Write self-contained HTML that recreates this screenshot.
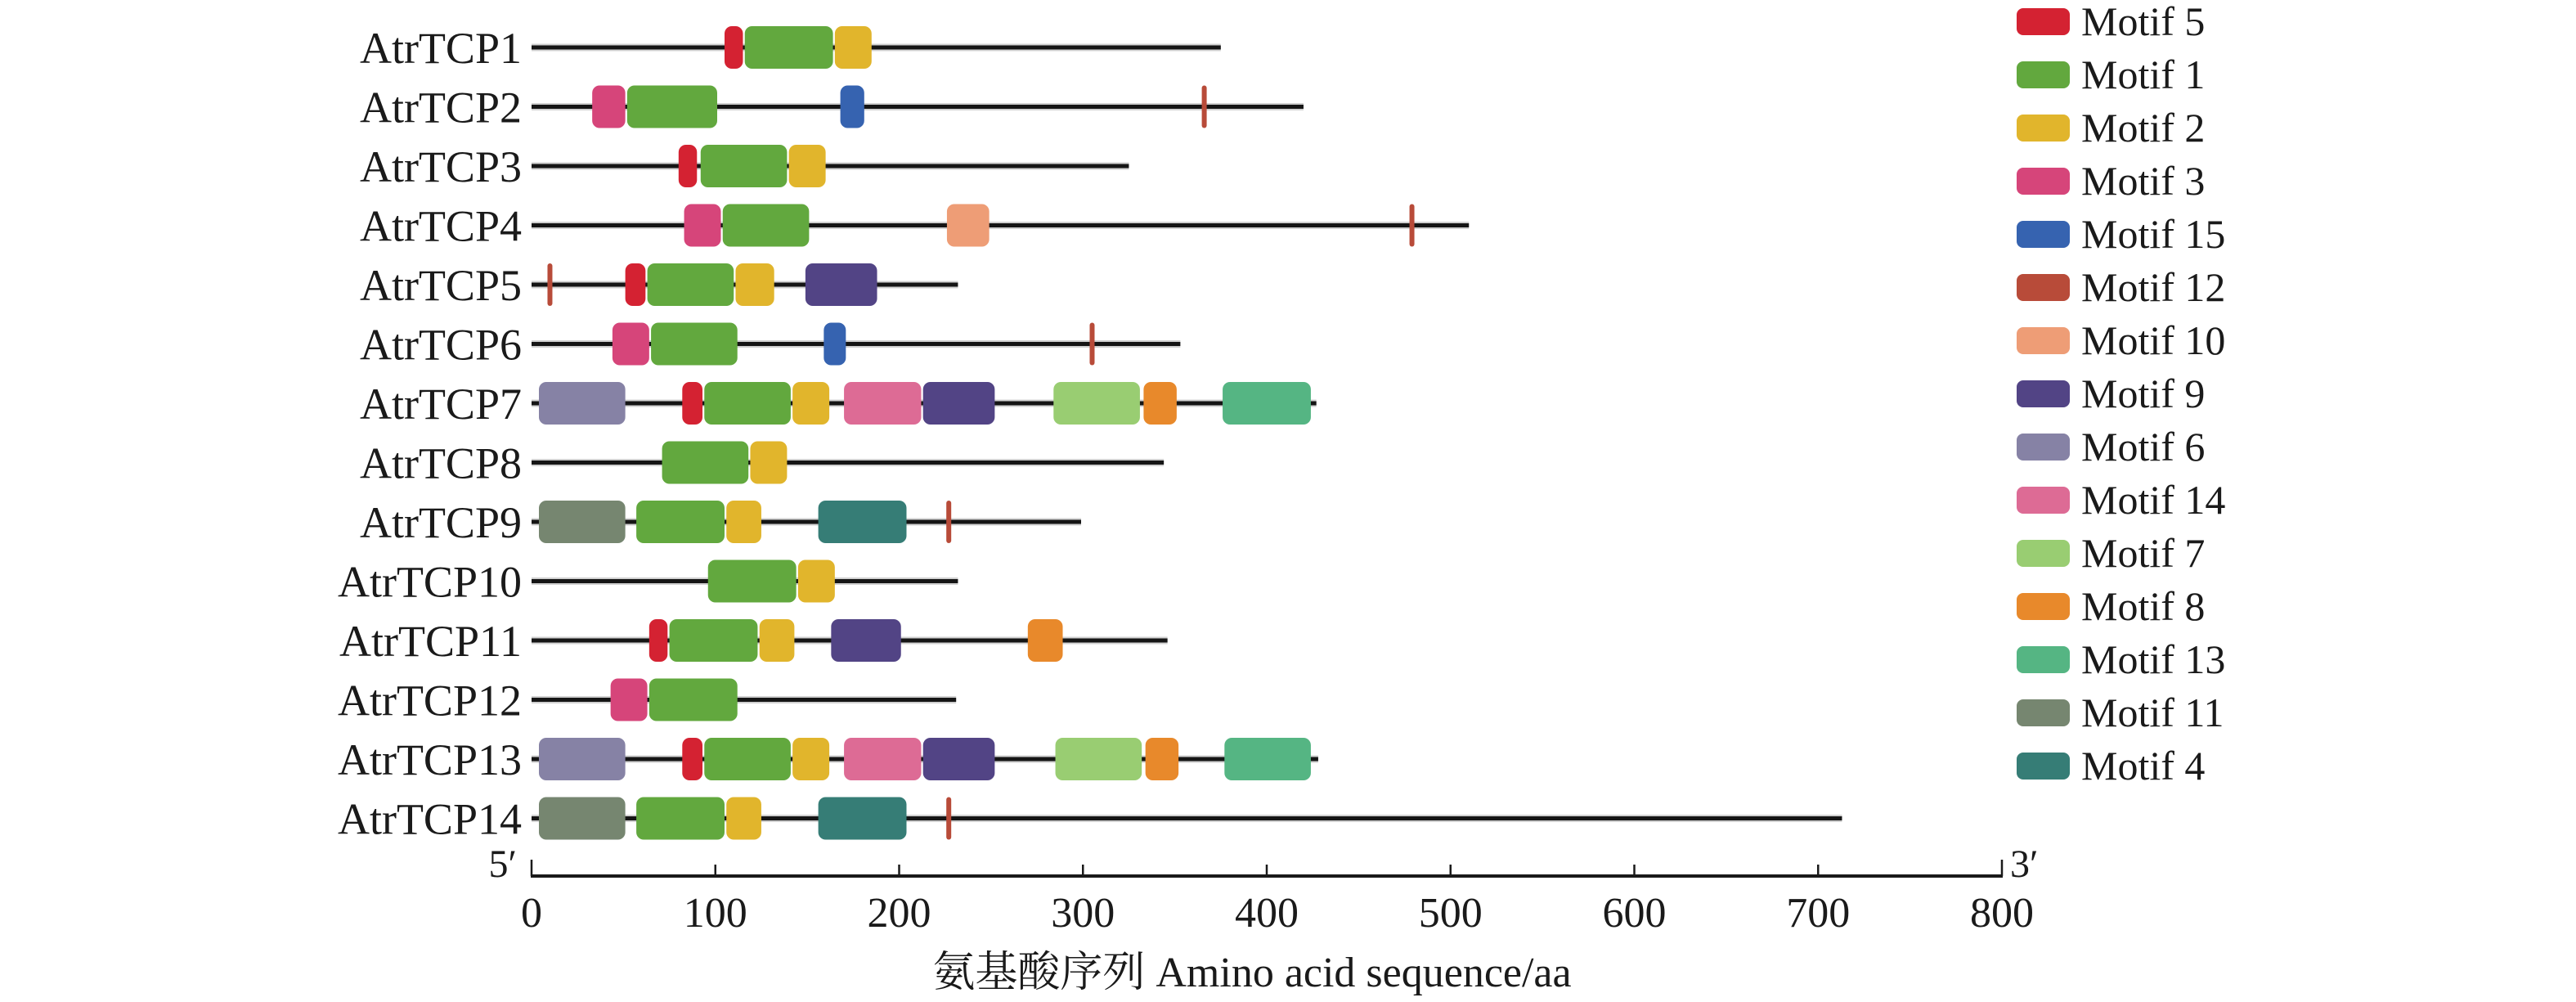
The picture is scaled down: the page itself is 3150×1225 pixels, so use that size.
<!DOCTYPE html>
<html><head><meta charset="utf-8"><style>
html,body{margin:0;padding:0;background:#fff;width:3150px;height:1225px;overflow:hidden}
svg{display:block}
text{font-family:"Liberation Serif","Noto Serif CJK SC",serif;fill:#1a1a1a}
</style></head><body>
<svg id="chart" width="3150" height="1225" viewBox="0 0 3150 1225" xmlns="http://www.w3.org/2000/svg">
<g id="rows"></g>
<g id="axis"></g>
<g id="legend"></g>
<text x="1531" y="1206" font-size="52" text-anchor="middle">氨基酸序列 Amino acid sequence/aa</text>
</svg>
<script>
const genes = ["AtrTCP1","AtrTCP2","AtrTCP3","AtrTCP4","AtrTCP5","AtrTCP6","AtrTCP7","AtrTCP8","AtrTCP9","AtrTCP10","AtrTCP11","AtrTCP12","AtrTCP13","AtrTCP14"];
const lengths = [375,420,325,510,232,353,427,344,299,232,346,231,428,713];
const motifNames = ["Motif 5","Motif 1","Motif 2","Motif 3","Motif 15","Motif 12","Motif 10","Motif 9","Motif 6","Motif 14","Motif 7","Motif 8","Motif 13","Motif 11","Motif 4"];
const motifColors = ["#d42232","#62a83e","#e1b52c","#d6457a","#3663b0","#b84b39","#ee9d76","#524485","#8682a5","#dd6b95","#99cd72","#e8892b","#55b583","#768670","#367d76"];
// per gene: [motif, start, end]
const hits = [
 [["Motif 5",105,115],["Motif 1",116,164],["Motif 2",165,185]],
 [["Motif 3",33,51],["Motif 1",52,101],["Motif 15",168,181],["Motif 12",365,367]],
 [["Motif 5",80,90],["Motif 1",92,139],["Motif 2",140,160]],
 [["Motif 3",83,103],["Motif 1",104,151],["Motif 10",226,249],["Motif 12",478,480]],
 [["Motif 12",9,11],["Motif 5",51,62],["Motif 1",63,110],["Motif 2",111,132],["Motif 9",149,188]],
 [["Motif 3",44,64],["Motif 1",65,112],["Motif 15",159,171],["Motif 12",304,306]],
 [["Motif 6",4,51],["Motif 5",82,93],["Motif 1",94,141],["Motif 2",142,162],["Motif 14",170,212],["Motif 9",213,252],["Motif 7",284,331],["Motif 8",333,351],["Motif 13",376,424]],
 [["Motif 1",71,118],["Motif 2",119,139]],
 [["Motif 11",4,51],["Motif 1",57,105],["Motif 2",106,125],["Motif 4",156,204],["Motif 12",226,228]],
 [["Motif 1",96,144],["Motif 2",145,165]],
 [["Motif 5",64,74],["Motif 1",75,123],["Motif 2",124,143],["Motif 9",163,201],["Motif 8",270,289]],
 [["Motif 3",43,63],["Motif 1",64,112]],
 [["Motif 6",4,51],["Motif 5",82,93],["Motif 1",94,141],["Motif 2",142,162],["Motif 14",170,212],["Motif 9",213,252],["Motif 7",285,332],["Motif 8",334,352],["Motif 13",377,424]],
 [["Motif 11",4,51],["Motif 1",57,105],["Motif 2",106,125],["Motif 4",156,204],["Motif 12",226,228]]
];
const ticks = [0,100,200,300,400,500,600,700,800];

const NS="http://www.w3.org/2000/svg";
const X0=650, X1=2448, XMAX=800;
const xs = v => X0 + v*(X1-X0)/XMAX;
const ys = i => 58 + i*72.5;
function mk(tag, attrs, parent){const e=document.createElementNS(NS,tag);for(const k in attrs)e.setAttribute(k,attrs[k]);parent.appendChild(e);return e;}

const rows=document.getElementById('rows');
genes.forEach((g,i)=>{
  const y=ys(i);
  const grp=mk('g',{},rows);
  
  
  const t=mk('text',{x:638,y:y+19,'font-size':54,'text-anchor':'end'},grp);
  t.textContent=g;
  
  
  mk('line',{x1:xs(0),x2:xs(lengths[i]),y1:y,y2:y,stroke:'#d0d0d0','stroke-width':9},grp);
  const ln=mk('line',{x1:xs(0),x2:xs(lengths[i]),y1:y,y2:y,stroke:'#151515','stroke-width':5},grp);
  
  
  hits[i].forEach(h=>{
    const c=motifColors[motifNames.indexOf(h[0])];
    const w=Math.max(xs(h[2])-xs(h[1]),6);
    const r=mk('rect',{x:(xs(h[1])+xs(h[2]))/2-w/2,y:y-26,width:w,height:52,rx:Math.min(9,w/2),fill:c},grp);
    
    
  });
});

const ax=document.getElementById('axis');
const AY=1071;
mk('line',{x1:xs(0)-1,x2:xs(XMAX)+1,y1:AY,y2:AY,stroke:'#1a1a1a','stroke-width':4},ax);
ticks.forEach(v=>{
  const tk=mk('line',{x1:xs(v),x2:xs(v),y1:AY-(v===0||v===XMAX?20:14),y2:AY,stroke:'#1a1a1a','stroke-width':2.5},ax);
  
  
  const tl=mk('text',{x:xs(v),y:1133,'font-size':52,'text-anchor':'middle'},ax);
  tl.textContent=v;
  
  
});
const p5=mk('text',{x:632,y:1072,'font-size':48,'text-anchor':'end'},ax);p5.textContent="5′";


const p3=mk('text',{x:2458,y:1072,'font-size':48},ax);p3.textContent="3′";



const lg=document.getElementById('legend');
motifNames.forEach((m,i)=>{
  const cy=26+i*65;
  const grp=mk('g',{},lg);
  
  
  mk('rect',{x:2466,y:cy-16,width:65,height:33,rx:8,fill:motifColors[i]},grp);
  const t=mk('text',{x:2545,y:cy+17,'font-size':50},grp);
  t.textContent=m;
});
</script>
</body></html>
